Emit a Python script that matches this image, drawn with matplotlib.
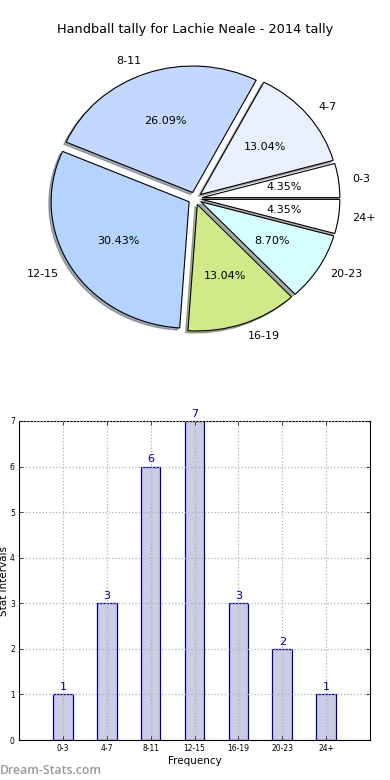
import matplotlib
matplotlib.use("Agg")
import matplotlib.pyplot as plt
import numpy as np

categories = ["0-3", "4-7", "8-11", "12-15", "16-19", "20-23", "24+"]
counts = [1, 3, 6, 7, 3, 2, 1]
pie_colors = ["#ffffff", "#e9f0ff", "#c4d8ff", "#b4d4ff", "#d0ea8a", "#d8ffff", "#ffffff"]
title = "Handball tally for Lachie Neale - 2014 tally"
yticks = [0, 1, 2, 3, 4, 5, 6, 7]

fig = plt.figure(figsize=(3.9, 7.8), dpi=100)

# Pie axes
ax1 = fig.add_axes([8.7/390, 1 - (198.5 + 151.8)/780, 372.6/390, 303.6/780])
wedges, texts, autotexts = ax1.pie(
    counts, labels=categories, colors=pie_colors, explode=[0.05]*len(counts),
    autopct="%1.2f%%", shadow={"ox": -0.012, "oy": -0.012, "shade": 0.6},
    startangle=0,
    wedgeprops=dict(edgecolor="black", linewidth=0.8),
    textprops=dict(fontsize=8))
ax1.set_xlim(-1.35, 1.35)
ax1.set_ylim(-1.2, 1.2)
ax1.set_aspect("auto")
ax1.set_title(title, fontsize=9.3, pad=10)
ax1.axis("off")

# Bar axes
ax2 = fig.add_axes([19/390, 40/780, 351/390, 319/780])
x = np.arange(len(categories))
bars = ax2.bar(x, counts, width=0.45, color="#ccccE4", edgecolor="#000099", linewidth=0.9, zorder=1)
for xi, v in zip(x, counts):
    ax2.text(xi, v + 0.05, str(v), ha="center", va="bottom", fontsize=8, color="#000080")
ax2.set_xlim(-1, 7)
ax2.set_ylim(0, 7)
ax2.set_xticks(x)
ax2.set_xticklabels(categories, fontsize=5.5)
ax2.set_yticks(yticks)
ax2.set_yticklabels([str(t) for t in yticks], fontsize=5.5)
ax2.tick_params(direction="in", top=True, right=True, length=3, width=0.5, pad=3)
ax2.grid(True, linestyle=":", color="#b0b0b0", linewidth=0.9, zorder=3)
ax2.set_axisbelow(False)
ax2.set_xlabel("Frequency", fontsize=7.5, labelpad=2)
ax2.set_ylabel("Stat Intervals", fontsize=7.5, labelpad=1)
for s in ax2.spines.values():
    s.set_linewidth(0.8)

fig.text(0.0, 9/780, "Dream-Stats.com", fontsize=8.8, color="#999999",
         family=["Open Sans", "DejaVu Sans"], fontweight="semibold", ha="left", va="center")

fig.savefig("out.png", dpi=100)
